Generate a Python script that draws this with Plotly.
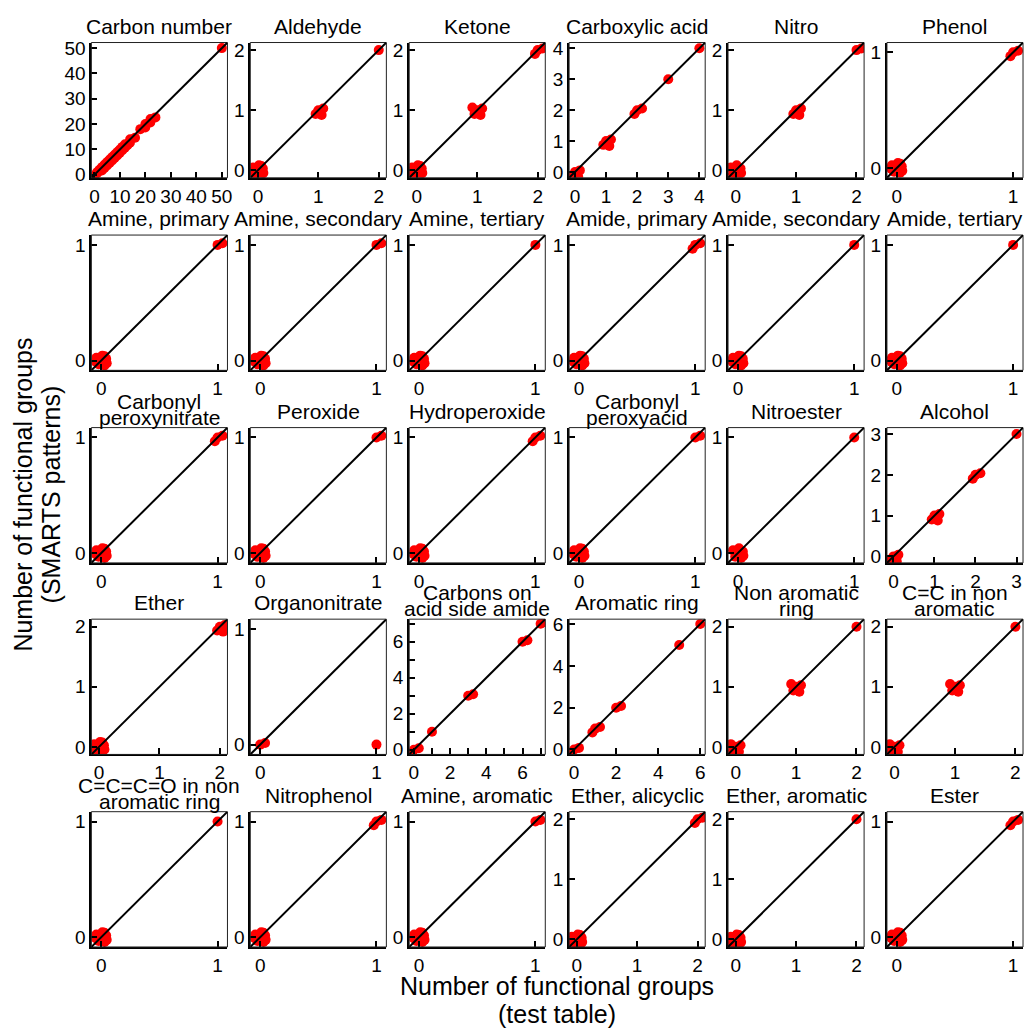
import plotly.graph_objects as go

# ---------------- data ----------------
TITLES = [
    "Carbon number", "Aldehyde", "Ketone", "Carboxylic acid", "Nitro", "Phenol",
    "Amine, primary", "Amine, secondary", "Amine, tertiary", "Amide, primary", "Amide, secondary", "Amide, tertiary",
    "Carbonyl\nperoxynitrate", "Peroxide", "Hydroperoxide", "Carbonyl\nperoxyacid", "Nitroester", "Alcohol",
    "Ether", "Organonitrate", "Carbons on\nacid side amide", "Aromatic ring", "Non aromatic\nring", "C=C in non\naromatic",
    "C=C=C=O in non\naromatic ring", "Nitrophenol", "Amine, aromatic", "Ether, alicyclic", "Ether, aromatic", "Ester",
]

# value in the test table (x) for each distinct point group
TEST_VALUES = [
    [1, 2, 3, 4, 5, 6, 7, 8, 9, 10, 11, 12, 14, 18, 20, 22, 50],
    [0, 1, 2], [0, 1, 2], [0, 1, 2, 3, 4], [0, 1, 2], [0, 1],
    [0, 1], [0, 1], [0, 1], [0, 1], [0, 1], [0, 1],
    [0, 1], [0, 1], [0, 1], [0, 1], [0, 1], [0, 1, 2, 3],
    [0, 2], [0, 1], [0, 1, 3, 6, 7], [0, 1, 2, 5, 6], [0, 1, 2], [0, 1, 2],
    [0, 1], [0, 1], [0, 1], [0, 2], [0, 2], [0, 1],
]
# value found with the SMARTS patterns (y) for each group
SMARTS_VALUES = [
    [1, 2, 3, 4, 5, 6, 7, 8, 9, 10, 11, 12, 14, 18, 20, 22, 50],
    [0, 1, 2], [0, 1, 2], [0, 1, 2, 3, 4], [0, 1, 2], [0, 1],
    [0, 1], [0, 1], [0, 1], [0, 1], [0, 1], [0, 1],
    [0, 1], [0, 1], [0, 1], [0, 1], [0, 1], [0, 1, 2, 3],
    [0, 2], [0, 0], [0, 1, 3, 6, 7], [0, 1, 2, 5, 6], [0, 1, 2], [0, 1, 2],
    [0, 1], [0, 1], [0, 1], [0, 2], [0, 2], [0, 1],
]
# number of overlapping (jittered) markers visible in each group
POINT_COUNTS = [
    [3, 3, 3, 3, 3, 3, 3, 3, 3, 3, 3, 3, 2, 2, 2, 2, 1],
    [9, 4, 1], [9, 5, 3], [4, 4, 3, 1, 1], [7, 4, 2], [9, 3],
    [9, 2], [9, 2], [9, 1], [9, 3], [9, 1], [9, 1],
    [9, 3], [9, 2], [9, 3], [9, 2], [7, 1], [4, 4, 3, 1],
    [9, 4], [2, 1], [3, 1, 2, 2, 2], [3, 3, 2, 1, 1], [5, 5, 1], [5, 5, 1],
    [9, 1], [9, 3], [9, 2], [9, 3], [9, 1], [9, 3],
]

TICK_VALUES = [
    [0, 10, 20, 30, 40, 50], [0, 1, 2], [0, 1, 2], [0, 1, 2, 3, 4], [0, 1, 2], [0, 1],
    [0, 1], [0, 1], [0, 1], [0, 1], [0, 1], [0, 1],
    [0, 1], [0, 1], [0, 1], [0, 1], [0, 1], [0, 1, 2, 3],
    [0, 1, 2], [0, 1], [0, 2, 4, 6], [0, 2, 4, 6], [0, 1, 2], [0, 1, 2],
    [0, 1], [0, 1], [0, 1], [0, 1, 2], [0, 1, 2], [0, 1],
]
MINOR_TICK_STEP = [None] * 20 + [1] + [None] * 9

X_TITLE = ["Number of functional groups", "(test table)"]
Y_TITLE = ["Number of functional groups", "(SMARTS patterns)"]

# fixed display jitter pattern (fractions of the jitter amplitude)
JITTER_PATTERN = [(0, 0), (0.9, 0.3), (-0.5, -0.7), (0.6, -0.9), (-0.9, 0.5),
                  (0.2, 0.9), (1.0, -0.5), (-1.0, -0.2), (0.6, 0.8)]

# ---------------- layout geometry ----------------
W = H = 1031
COL_LEFT = [90, 250, 410, 571, 731, 891]
ROW_TOP = [38, 233, 428, 622, 817]
PANEL = 137
FONT = "Liberation Sans, Arial, Helvetica, sans-serif"

fig = go.Figure()
layout = dict(
    width=W, height=H, margin=dict(l=0, r=0, t=0, b=0),
    paper_bgcolor="white", plot_bgcolor="white", showlegend=False,
    font=dict(family=FONT, color="black"),
)
shapes = []
annotations = []

for i in range(30):
    r, c = divmod(i, 6)
    suf = "" if i == 0 else str(i + 1)
    allv = TEST_VALUES[i] + SMARTS_VALUES[i]
    vmin, vmax = min(allv), max(allv)
    span = vmax - vmin
    pad = 0.085 * span ** 0.57 if span <= 7 else 0.045 * span
    lo, hi = vmin - pad, vmax + pad
    j = (hi - lo) * 0.04

    xs, ys = [], []
    for tv, sv, n in zip(TEST_VALUES[i], SMARTS_VALUES[i], POINT_COUNTS[i]):
        for dx, dy in JITTER_PATTERN[:n]:
            xs.append(tv + dx * j)
            ys.append(sv + dy * j)

    fig.add_trace(go.Scatter(
        x=xs, y=ys, mode="markers",
        marker=dict(color="#ff0000", size=10, line=dict(width=0)),
        xaxis="x" + suf, yaxis="y" + suf, hoverinfo="skip",
    ))

    x0 = COL_LEFT[c] / W
    x1 = (COL_LEFT[c] + PANEL) / W
    y1 = 1 - ROW_TOP[r] / H
    y0 = 1 - (ROW_TOP[r] + PANEL) / H

    common = dict(
        range=[lo, hi], tickvals=TICK_VALUES[i], ticks="inside", ticklen=6,
        tickwidth=2, tickcolor="black", showline=True, linewidth=2, linecolor="black",
        showgrid=False, zeroline=False, tickfont=dict(size=19, family=FONT, color="black"),
        fixedrange=True,
    )
    if MINOR_TICK_STEP[i]:
        common["minor"] = dict(ticks="inside", ticklen=6, tickwidth=2, tickcolor="black",
                               dtick=MINOR_TICK_STEP[i], tick0=0, showgrid=False)
    layout["xaxis" + suf] = dict(domain=[x0, x1], anchor="y" + suf, **common)
    layout["yaxis" + suf] = dict(domain=[y0, y1], anchor="x" + suf, **common)

    # thin panel box
    shapes.append(dict(type="rect", xref="x" + suf + " domain", yref="y" + suf + " domain",
                       x0=0, x1=1, y0=0, y1=1, line=dict(color="#222", width=1), layer="above"))
    # 1:1 line
    shapes.append(dict(type="line", xref="x" + suf, yref="y" + suf,
                       x0=lo, y0=lo, x1=hi, y1=hi, line=dict(color="black", width=2), layer="above"))

    # panel title
    lines = TITLES[i].split("\n")
    xc = (x0 + x1) / 2
    if len(lines) == 1:
        annotations.append(dict(text=lines[0], x=xc, y=y1, xref="paper", yref="paper",
                                xanchor="center", yanchor="bottom", yshift=3, showarrow=False,
                                font=dict(size=21, family=FONT, color="black")))
    else:
        for k, ln in enumerate(lines):
            annotations.append(dict(text=ln, x=xc, y=y1, xref="paper", yref="paper",
                                    xanchor="center", yanchor="bottom",
                                    yshift=-3 + 16 * (len(lines) - 1 - k), showarrow=False,
                                    font=dict(size=21, family=FONT, color="black")))

# global axis titles
xmid = (COL_LEFT[0] + COL_LEFT[-1] + PANEL) / 2 / W
for k, ln in enumerate(X_TITLE):
    annotations.append(dict(text=ln, x=xmid, y=1 - (994 + 28 * k) / H, xref="paper", yref="paper",
                            xanchor="center", yanchor="middle", showarrow=False,
                            font=dict(size=25, family=FONT, color="black")))
ymid = 1 - (ROW_TOP[0] + ROW_TOP[-1] + PANEL) / 2 / H
for k, ln in enumerate(Y_TITLE):
    annotations.append(dict(text=ln, x=(21 + 28 * k) / W, y=ymid, xref="paper", yref="paper",
                            xanchor="center", yanchor="middle", textangle=-90, showarrow=False,
                            font=dict(size=25, family=FONT, color="black")))

layout["shapes"] = shapes
layout["annotations"] = annotations
fig.update_layout(**layout)
fig.write_html("out.html")
